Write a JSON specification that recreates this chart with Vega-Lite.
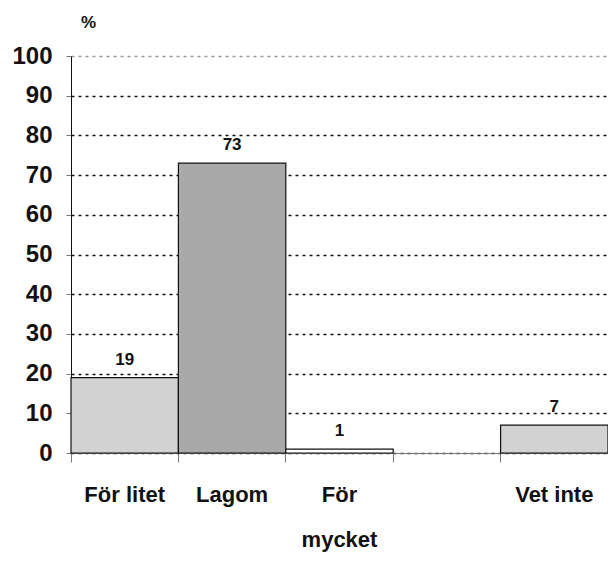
{
  "$schema": "https://vega.github.io/schema/vega-lite/v6.json",
  "autosize": "none",
  "width": 537,
  "height": 397,
  "padding": {"left": 71, "top": 56, "right": 0, "bottom": 128},
  "background": "white",
  "config": {
    "view": {"stroke": null},
    "font": "Liberation Sans"
  },
  "data": {
    "values": [
      {"svar": "För litet", "procent": 19, "fyll": "ljus"},
      {"svar": "Lagom", "procent": 73, "fyll": "mörk"},
      {"svar": "För mycket", "procent": 1, "fyll": "vit"},
      {"svar": "Vet inte", "procent": 7, "fyll": "ljus"}
    ]
  },
  "encoding": {
    "x": {
      "field": "svar",
      "type": "nominal",
      "sort": null,
      "scale": {"domain": ["För litet", "Lagom", "För mycket", "", "Vet inte"], "paddingInner": 0, "paddingOuter": 0},
      "axis": {
        "title": null,
        "labelAngle": 0,
        "labelFont": "Liberation Sans",
        "labelFontWeight": "bold",
        "labelFontSize": 22,
        "labelColor": "#111",
        "labelPadding": 32,
        "labelLineHeight": 45,
        "labelBaseline": "middle",
        "labelExpr": "datum.value == 'För mycket' ? ['För', 'mycket'] : datum.value",
        "bandPosition": 0,
        "tickSize": 9,
        "tickColor": "#777",
        "domainColor": "#777",
        "grid": false
      }
    },
    "y": {
      "field": "procent",
      "type": "quantitative",
      "scale": {"domain": [0, 100]},
      "axis": {
        "title": "%",
        "titleAngle": 0,
        "titleX": 17,
        "titleY": -34,
        "titleAlign": "center",
        "titleBaseline": "middle",
        "titleFontSize": 17,
        "titleFontWeight": "bold",
        "titleFont": "Liberation Sans",
        "titleColor": "#111",
        "values": [0, 10, 20, 30, 40, 50, 60, 70, 80, 90, 100],
        "labelFont": "Liberation Sans",
        "labelFontWeight": "bold",
        "labelFontSize": 24,
        "labelColor": "#111",
        "labelPadding": 14,
        "tickSize": 5,
        "tickColor": "#777",
        "domainColor": "#111",
        "grid": true,
        "gridColor": {"condition": {"test": "datum.value == 100", "value": "#999999"}, "value": "#111111"},
        "gridDash": [3, 4],
        "gridWidth": 1.5
      }
    }
  },
  "layer": [
    {
      "mark": {"type": "bar", "stroke": "#111", "strokeWidth": 1.2},
      "encoding": {
        "color": {
          "field": "fyll",
          "type": "nominal",
          "scale": {"domain": ["ljus", "mörk", "vit"], "range": ["#d2d2d2", "#a9a9a9", "#ffffff"]},
          "legend": null
        }
      }
    },
    {
      "mark": {"type": "text", "dy": -18, "fontWeight": "bold", "fontSize": 17, "color": "#111", "font": "Liberation Sans"},
      "encoding": {"text": {"field": "procent", "type": "quantitative"}}
    }
  ]
}
